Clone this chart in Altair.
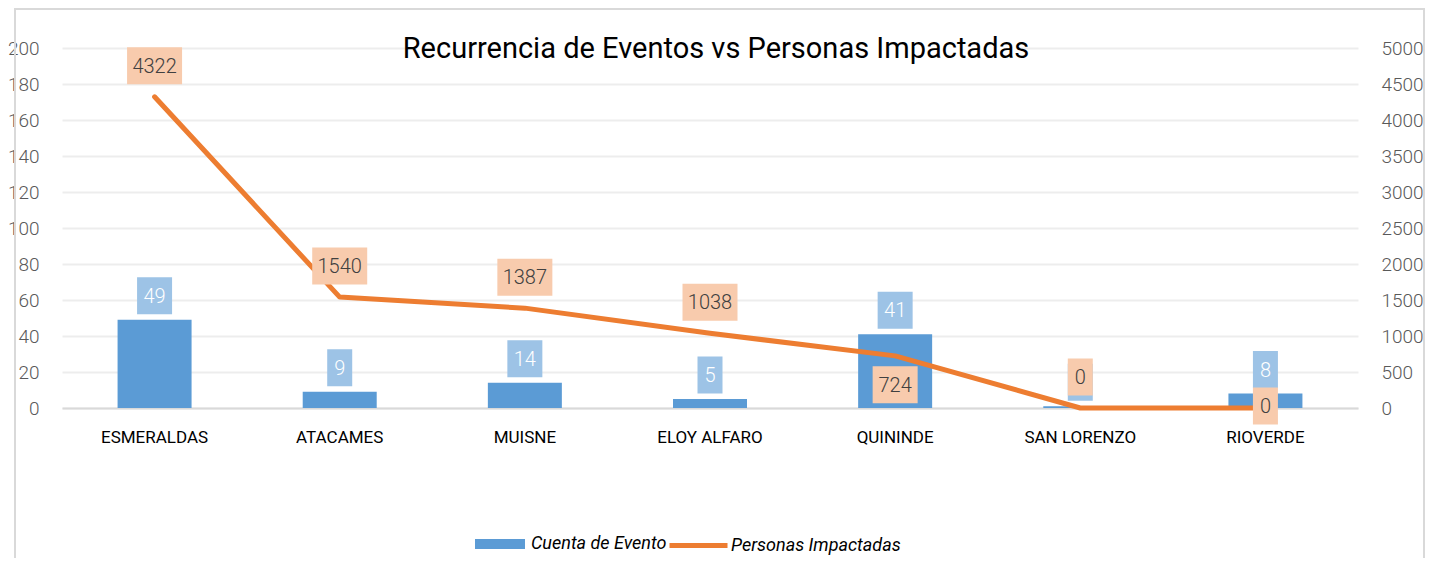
import altair as alt
import pandas as pd

municipios = ["ESMERALDAS", "ATACAMES", "MUISNE", "ELOY ALFARO", "QUININDE", "SAN LORENZO", "RIOVERDE"]
eventos = [49, 9, 14, 5, 41, 1, 8]
personas = [4322, 1540, 1387, 1038, 724, 0, 0]
left_ticks = list(range(0, 201, 20))
right_ticks = list(range(0, 5001, 500))
titulo = "Recurrencia de Eventos vs Personas Impactadas"
serie_barras = "Cuenta de Evento"
serie_linea = "Personas Impactadas"

df = pd.DataFrame({"municipio": municipios, "eventos": eventos, "personas": personas})

FONT = "Roboto"
BLUE = "#5B9BD5"
ORANGE = "#ED7D31"
BLUE_LBL = "#9DC3E6"
ORANGE_LBL = "#F8CBAD"
W, H = 1296, 360

base = alt.Chart(df)

x_enc = alt.X(
    "municipio:N", sort=municipios, title=None,
    scale=alt.Scale(paddingInner=0.6, paddingOuter=0.3),
    axis=alt.Axis(labelAngle=0, labelFont=FONT, labelFontSize=17, labelColor="#000000",
                  labelPadding=21, ticks=False, domain=True, domainColor="#D9D9D9",
                  domainWidth=2, grid=False),
)

y_left = alt.Y(
    "eventos:Q", title=None, scale=alt.Scale(domain=[0, 200]),
    axis=alt.Axis(values=left_ticks, format="d", labelFont=FONT, labelFontSize=19,
                  labelFontWeight=300, labelColor="#595959", labelPadding=23, ticks=False,
                  domain=False, gridColor="#EDEDED", gridWidth=2),
)
y_right = alt.Y(
    "personas:Q", title=None, scale=alt.Scale(domain=[0, 5000]),
    axis=alt.Axis(values=right_ticks, format="d", orient="right", labelFont=FONT,
                  labelFontSize=19, labelFontWeight=300, labelColor="#595959",
                  labelPadding=23, ticks=False, domain=False, grid=False),
)

bars = base.transform_calculate(serie=f"'{serie_barras}'").mark_bar(width=74).encode(
    x=x_enc, y=y_left,
    fill=alt.Fill("serie:N", scale=alt.Scale(domain=[serie_barras], range=[BLUE]),
                  legend=alt.Legend(title=None, orient="none", legendX=413, legendY=471,
                                    symbolType="M-1,-0.2L1,-0.2L1,0.2L-1,0.2Z", symbolSize=2500,
                                    symbolStrokeWidth=0, labelFont=FONT, labelFontSize=18,
                                    labelFontStyle="italic", labelColor="#000000",
                                    labelOffset=6, labelLimit=400, padding=0)),
)


def label_layer(field, yscale, n, yoff, fill, text_color, extra_filter=None):
    w = 15 + 10 * n
    ch = base.transform_calculate(nd=f"length(toString(datum.{field}))").transform_filter(
        f"datum.nd == {n}")
    if extra_filter:
        ch = ch.transform_filter(extra_filter)
    y_enc = alt.Y(f"{field}:Q", scale=alt.Scale(domain=yscale), axis=None)
    box = ch.mark_bar(width=w, yOffset=yoff - 18.5, y2Offset=yoff + 18.5, color=fill).encode(
        x=x_enc, y=y_enc, y2=alt.Y2(f"{field}:Q"))
    txt = ch.mark_text(yOffset=yoff + 1, baseline="middle", align="center", font=FONT,
                       fontSize=20, fontWeight=300, color=text_color).encode(
        x=x_enc, y=y_enc, text=alt.Text(f"{field}:Q"))
    return [box, txt]


bar_labels = []
for n in (1, 2):
    bar_labels += label_layer("eventos", [0, 200], n, -24, BLUE_LBL, "#FFFFFF")

line = base.transform_calculate(serie2=f"'{serie_linea}'").mark_line(
    strokeWidth=5, strokeCap="round", strokeJoin="round").encode(
    x=x_enc, y=y_right,
    stroke=alt.Stroke("serie2:N", scale=alt.Scale(domain=[serie_linea], range=[ORANGE]),
                      legend=alt.Legend(title=None, orient="none", legendX=605, legendY=466,
                                        symbolType="stroke", symbolSize=3364,
                                        symbolStrokeWidth=5, labelFont=FONT, labelFontSize=18,
                                        labelFontStyle="italic", labelColor="#000000",
                                        labelOffset=1, labelLimit=400, padding=0)),
)

line_labels = []
for n in (1, 2, 3, 4):
    line_labels += label_layer("personas", [0, 5000], n, -31, ORANGE_LBL, "#404040",
                               "datum.municipio != 'QUININDE' && datum.municipio != 'RIOVERDE'")
line_labels += label_layer("personas", [0, 5000], 3, 29, ORANGE_LBL, "#404040",
                           "datum.municipio == 'QUININDE'")
line_labels += label_layer("personas", [0, 5000], 1, -2, ORANGE_LBL, "#404040",
                           "datum.municipio == 'RIOVERDE'")

# decorations: chart border and title
border = alt.Chart(pd.DataFrame({"k": [0]})).mark_rect(
    fill=None, stroke="#D9D9D9", strokeWidth=2).encode(
    x=alt.value(-47), x2=alt.value(1362), y=alt.value(-39), y2=alt.value(520))
title_bg = alt.Chart(pd.DataFrame({"k": [0]})).mark_rect(fill="#FFFFFF").encode(
    x=alt.value(355), x2=alt.value(955), y=alt.value(-18), y2=alt.value(18))
title_txt = alt.Chart(pd.DataFrame({"t": [titulo]})).mark_text(
    font=FONT, fontSize=29, color="#000000", baseline="middle", align="center").encode(
    x=alt.value(654), y=alt.value(1), text="t:N")

chart = alt.layer(
    bars, line, *bar_labels, *line_labels, border, title_bg, title_txt,
).resolve_scale(y="independent").properties(
    width=W, height=H,
    background="#FFFFFF",
    autosize=alt.AutoSizeParams(type="none"),
    padding={"left": 54, "top": 40, "right": 67, "bottom": 150},
).configure_view(stroke=None)

chart.save("out.html", embed_options={"renderer": "svg", "actions": False})
